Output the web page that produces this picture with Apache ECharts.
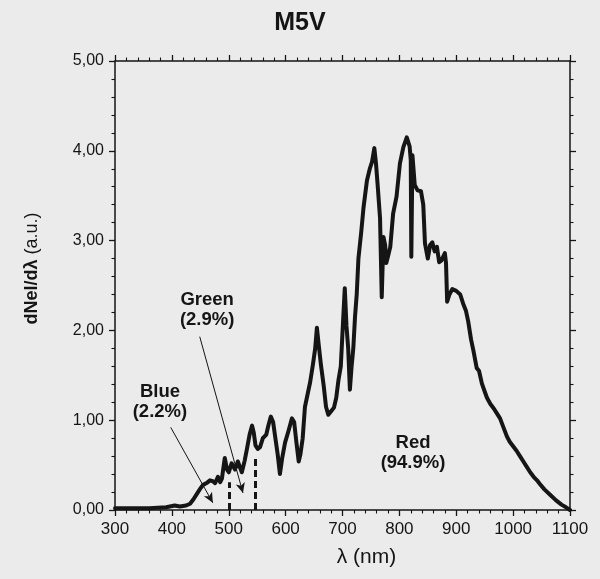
<!DOCTYPE html>
<html>
<head>
<meta charset="utf-8">
<script src="https://cdn.jsdelivr.net/npm/echarts@6/dist/echarts.min.js"></script>
<style>
html,body{margin:0;padding:0;background:#ebebeb;}
#c{width:600px;height:579px;}
</style>
</head>
<body>
<div id="c"></div>
<script>
// ---- data ----
var wavelengths = [300,330,360,390,405,414,425,432,438,444,450,455,461,467,472,476,481,485,488,493,497,500,505,511,516,520,523,528,532,537,541,544,547,551,555,560,566,570,574,578,582,586,590,594,599,605,611,615,619,623,626,630,634,639,643,648,652,655,658,662,667,671,675,680,685,689,693,697,701,704,707,710,713,716,719,722,725,728,733,737,743,748,752,756,759,762,766,769,772,775,777,781,784,789,795,801,807,813,818,820,821,823,827,832,838,842,845,850,854,858,862,866,870,874,880,882,884,888,893,900,907,912,917,921,926,930,936,940,945,950,954,960,966,972,977,983,989,994,1000,1006,1012,1018,1024,1030,1036,1042,1047,1055,1065,1075,1085,1093,1100];
var flux = [0.02,0.02,0.02,0.03,0.05,0.04,0.05,0.07,0.12,0.18,0.24,0.28,0.30,0.33,0.32,0.30,0.37,0.31,0.35,0.58,0.45,0.42,0.52,0.45,0.54,0.47,0.42,0.55,0.68,0.85,0.94,0.86,0.72,0.68,0.70,0.80,0.84,0.95,1.04,0.98,0.80,0.62,0.40,0.58,0.75,0.88,1.02,0.98,0.75,0.54,0.62,0.80,1.15,1.30,1.42,1.62,1.80,2.03,1.85,1.62,1.38,1.15,1.06,1.10,1.14,1.25,1.45,1.60,2.10,2.47,2.05,1.80,1.34,1.60,1.80,2.15,2.40,2.80,3.10,3.37,3.67,3.80,3.88,4.03,3.85,3.60,3.25,2.37,3.04,2.95,2.75,2.85,2.93,3.30,3.49,3.86,4.04,4.15,4.05,3.90,2.82,3.95,3.62,3.56,3.55,3.40,2.97,2.80,2.95,2.98,2.88,2.93,2.76,2.78,2.86,2.75,2.32,2.40,2.46,2.44,2.40,2.30,2.22,2.10,1.90,1.78,1.58,1.55,1.41,1.32,1.25,1.18,1.13,1.07,1.02,0.92,0.82,0.76,0.71,0.66,0.60,0.54,0.48,0.42,0.37,0.33,0.29,0.23,0.17,0.11,0.06,0.03,0.00];

var bandBoundaries = [500, 546];         // dashed boundary wavelengths
var boundaryHeights = [0.31, 0.58];      // dashed line tops
var bandNames = ['Blue', 'Green', 'Red'];
var bandShares = ['(2.2%)', '(2.9%)', '(94.9%)'];
var labelPos = [[379, 1.20], [462, 2.23], [824, 0.64]];   // label centres (nm, value)
var arrowFrom = [[398, 0.92], [449, 1.93]];
var arrowTo = [[472, 0.08], [525, 0.19]];

var xMin = 300, xMax = 1100, xStep = 100;
var yMin = 0, yMax = 5, yStep = 1;
var titleText = 'M5V';

// ---- chart ----
var chart = echarts.init(document.getElementById('c'), null, {renderer: 'canvas'});
var FONT = 'Liberation Sans';
var INK = '#151515';

var data = wavelengths.map(function (w, i) { return [w, flux[i]]; });

var dashLines = bandBoundaries.map(function (b, i) {
  return [{coord: [b, 0]}, {coord: [b, boundaryHeights[i]]}];
});
var arrows = arrowFrom.map(function (f, i) {
  return [{coord: f}, {coord: arrowTo[i]}];
});
var labelPts = labelPos.map(function (p, i) {
  return {coord: p, value: bandNames[i] + '\n' + bandShares[i]};
});

function axisCommon(showLabel) {
  return {
    axisLine: {show: true, onZero: false, lineStyle: {color: INK, width: 1.5}},
    axisTick: {show: true, inside: false, length: 6, lineStyle: {color: INK, width: 1.3}},
    minorTick: {show: true, splitNumber: 5, length: 3.5, lineStyle: {color: INK, width: 1.1}},
    splitLine: {show: false},
    axisLabel: {show: showLabel}
  };
}

var x0 = Object.assign({type: 'value', min: xMin, max: xMax, interval: xStep, position: 'bottom',
  name: 'λ (nm)', nameLocation: 'middle', nameGap: 37,
  nameTextStyle: {fontFamily: FONT, fontSize: 21, color: INK, padding: [0, 0, 0, 48]}}, axisCommon(true));
x0.axisLabel = {show: true, fontFamily: FONT, fontSize: 17, color: INK, margin: 11,
  formatter: function (v) { return String(v); }};
var x1 = Object.assign({type: 'value', min: xMin, max: xMax, interval: xStep, position: 'top'}, axisCommon(false));

var y0 = Object.assign({type: 'value', min: yMin, max: yMax, interval: yStep, position: 'left',
  name: '{b|dNel/dλ} {n|(a.u.)}', nameLocation: 'middle', nameGap: 74, nameRotate: 90,
  nameTextStyle: {fontFamily: FONT, fontSize: 18, color: INK, padding: [0, 0, 0, 34],
    rich: {b: {fontFamily: FONT, fontSize: 18, fontWeight: 'bold', color: INK},
           n: {fontFamily: FONT, fontSize: 18, color: INK}}}}, axisCommon(true));
y0.axisLabel = {show: true, fontFamily: FONT, fontSize: 16, color: INK, margin: 11,
  formatter: function (v) { return v.toFixed(2).replace('.', ','); }};
var y1 = Object.assign({type: 'value', min: yMin, max: yMax, interval: yStep, position: 'right'}, axisCommon(false));

chart.setOption({
  backgroundColor: '#ebebeb',
  animation: false,
  title: {text: titleText, left: 'center', top: 6,
    textStyle: {fontFamily: FONT, fontSize: 25, fontWeight: 'bold', color: INK}},
  grid: {left: 115, right: 30, top: 61, bottom: 69, containLabel: false},
  xAxis: [x0, x1],
  yAxis: [y0, y1],
  series: [{
    type: 'line',
    data: data,
    showSymbol: false,
    symbol: 'none',
    lineStyle: {color: INK, width: 4, join: 'round', cap: 'round'},
    z: 5,
    markLine: {
      silent: true,
      symbol: ['none', 'none'],
      label: {show: false},
      lineStyle: {color: INK, width: 3, type: [7, 4]},
      data: dashLines
    },
    markPoint: {
      silent: true,
      symbol: 'circle', symbolSize: 0,
      label: {show: true, position: 'inside', fontFamily: FONT, fontSize: 18.5, fontWeight: 'bold',
        color: INK, lineHeight: 20, formatter: function (p) { return p.value; }},
      data: labelPts
    }
  }, {
    type: 'line',
    data: [],
    markLine: {
      silent: true,
      symbol: ['none', 'arrow'],
      symbolSize: [7, 10],
      label: {show: false},
      lineStyle: {color: INK, width: 1, type: 'solid'},
      data: arrows
    }
  }]
});
</script>
</body>
</html>
